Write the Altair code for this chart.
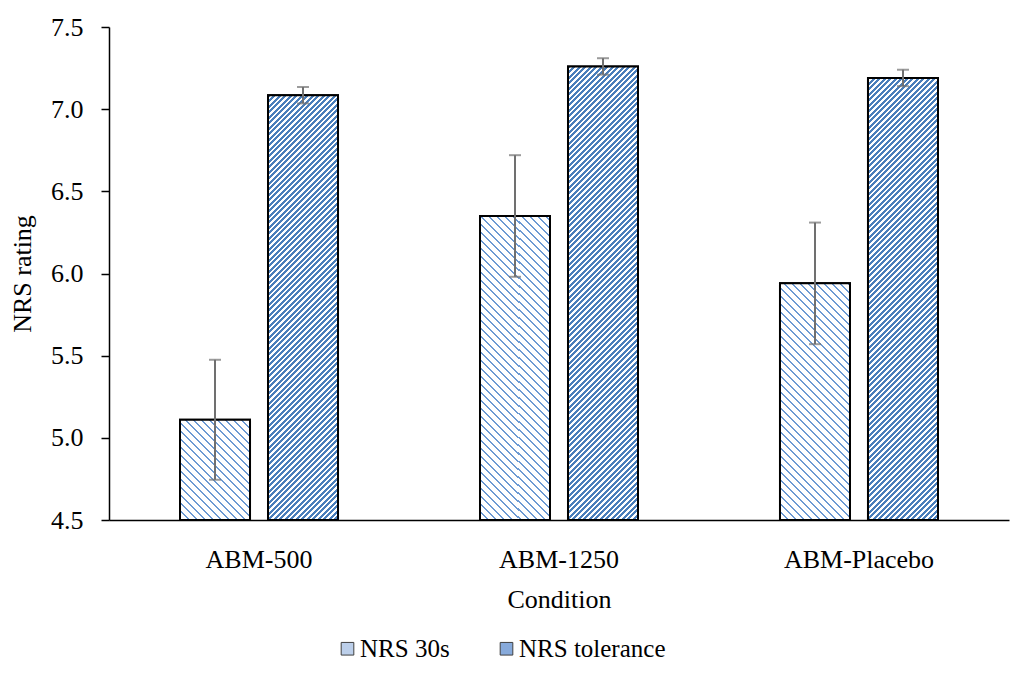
import math
import altair as alt
import pandas as pd

# Mean NRS ratings with standard-error bars per condition
conditions = ["ABM-500", "ABM-1250", "ABM-Placebo"]
series = ["NRS 30s", "NRS tolerance"]
nrs_30s = [5.11, 6.35, 5.94]
nrs_30s_err = [0.365, 0.37, 0.37]
nrs_tol = [7.085, 7.26, 7.19]
nrs_tol_err = [0.05, 0.05, 0.05]

y_ticks = [4.5, 5.0, 5.5, 6.0, 6.5, 7.0, 7.5]

FONT = "Liberation Serif"
BLUE = "#4a7ebb"
LIGHT_BLUE = "#6d9ad3"
ERR_GREY = "#707070"

PLOT_W = 900
PLOT_H = 493
BAR_W = 70.0
Y_MIN, Y_MAX = 4.5, 7.5

rows = []
for c, v, e in zip(conditions, nrs_30s, nrs_30s_err):
    rows.append({"condition": c, "series": series[0], "value": v, "lo": v - e, "hi": v + e})
for c, v, e in zip(conditions, nrs_tol, nrs_tol_err):
    rows.append({"condition": c, "series": series[1], "value": v, "lo": v - e, "hi": v + e})
df = pd.DataFrame(rows)

x_enc = alt.X(
    "condition:N",
    sort=conditions,
    scale=alt.Scale(paddingInner=0.4733, paddingOuter=0.2367),
    axis=alt.Axis(
        title="Condition", labelAngle=0, ticks=False, labelPadding=26,
        titlePadding=14, domainColor="#000000", domainWidth=1.5,
        labelFont=FONT, titleFont=FONT,
    ),
)
xoff_enc = alt.XOffset(
    "series:N", sort=series, scale=alt.Scale(paddingInner=0.2045, paddingOuter=0)
)
y_scale = alt.Scale(domain=[Y_MIN, Y_MAX], nice=False, zero=False)
y_enc = alt.Y(
    "value:Q",
    scale=y_scale,
    axis=alt.Axis(
        title="NRS rating", values=y_ticks, format=".1f", grid=False,
        tickSize=8, tickColor="#000000", domainColor="#000000", domainWidth=1.5,
        tickWidth=1.5, labelPadding=18, titleX=-74, titleY=PLOT_H / 2,
        labelFont=FONT, titleFont=FONT,
    ),
)
y2_enc = alt.Y2(datum=Y_MIN)


def hatch(value, upward, color, period, frac):
    """Diagonal stripe fill built from a hard-stop linear gradient."""
    w = BAR_W
    h = (value - Y_MIN) / (Y_MAX - Y_MIN) * PLOT_H
    k = (w + h) / (w * w + h * h)
    n = (w + h) / period
    stops = []
    i = 0
    while i / n < 1:
        a = i / n
        b = min((i + frac) / n, 1.0)
        c = min((i + 1) / n, 1.0)
        stops += [
            {"offset": a, "color": color},
            {"offset": b, "color": color},
            {"offset": b, "color": "#ffffff"},
            {"offset": c, "color": "#ffffff"},
        ]
        i += 1
    if upward:
        x1, y1, x2, y2 = 0, 0, k * w, k * h
    else:
        x1, y1, x2, y2 = 0, 1, k * w, 1 - k * h
    return {"gradient": "linear", "stops": stops, "x1": x1, "y1": y1, "x2": x2, "y2": y2}


base = alt.Chart(df)

# Flat bars underneath carry the legend
legend_bars = base.mark_bar(stroke="#000000", strokeWidth=2).encode(
    x=x_enc, xOffset=xoff_enc, y=y_enc, y2=y2_enc,
    color=alt.Color(
        "series:N", sort=series,
        scale=alt.Scale(domain=series, range=["#bccfea", "#87aadb"]),
        legend=alt.Legend(title=None, labelFont=FONT),
    ),
)

layers = [legend_bars]
for _, r in df.iterrows():
    upward = r["series"] == series[1]
    fill = hatch(r["value"], upward, BLUE if upward else LIGHT_BLUE,
                 5.5 if upward else 8.0, 0.55 if upward else 0.25)
    layers.append(
        base.transform_filter(
            (alt.datum.condition == r["condition"]) & (alt.datum.series == r["series"])
        ).mark_bar(fill=fill, stroke="#000000", strokeWidth=2).encode(
            x=x_enc, xOffset=xoff_enc, y=y_enc, y2=y2_enc
        )
    )

err_rule = base.mark_rule(color=ERR_GREY, strokeWidth=2).encode(
    x=x_enc, xOffset=xoff_enc, y=alt.Y("lo:Q", scale=y_scale), y2="hi:Q"
)
cap_hi = base.mark_tick(color=ERR_GREY, thickness=2, size=12, orient="horizontal").encode(
    x=x_enc, xOffset=xoff_enc, y=alt.Y("hi:Q", scale=y_scale)
)
cap_lo = base.mark_tick(color=ERR_GREY, thickness=2, size=12, orient="horizontal").encode(
    x=x_enc, xOffset=xoff_enc, y=alt.Y("lo:Q", scale=y_scale)
)
layers += [err_rule, cap_hi, cap_lo]

chart = (
    alt.layer(*layers)
    .properties(
        width=PLOT_W, height=PLOT_H,
        autosize=alt.AutoSizeParams(type="none"),
        padding={"left": 109, "top": 27, "right": 17, "bottom": 163},
    )
    .configure(font=FONT)
    .configure_view(stroke=None)
    .configure_axis(
        labelFont=FONT, titleFont=FONT, labelFontSize=26, titleFontSize=26,
        labelColor="#000000", titleColor="#000000", titleFontWeight="normal",
    )
    .configure_legend(
        orient="none", legendX=226, legendY=609, direction="horizontal",
        labelFont=FONT, labelFontSize=25, labelColor="#000000",
        symbolType="square", symbolSize=160, symbolStrokeColor="#404040",
        symbolStrokeWidth=1, columnPadding=44, labelOffset=0,
    )
)

chart.save("out.html", embed_options={"renderer": "svg", "actions": False})
